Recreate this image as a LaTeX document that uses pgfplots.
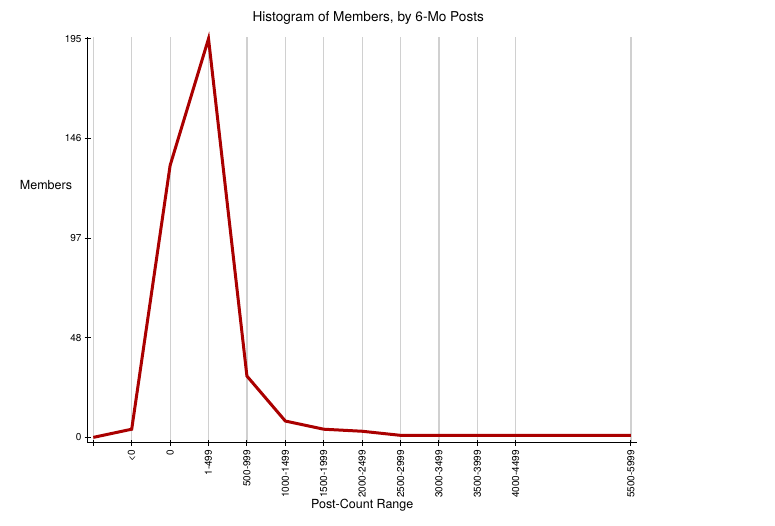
\documentclass[border=0pt]{standalone}
\usepackage{fontspec}
\setmainfont{TeX Gyre Heros}
\usepackage{pgfplots}
\pgfplotsset{compat=1.18}
\definecolor{linered}{RGB}{170,0,0}
\definecolor{gridgray}{RGB}{208,208,208}
\begin{document}
\begin{tikzpicture}
\path[use as bounding box] (0,0) rectangle (775pt,525pt);
\begin{axis}[
    at={(87.7pt,82.3pt)}, anchor=south west,
    scale only axis, width=549pt, height=406pt,
    xmin=-0.146, xmax=14.15,
    ymin=-2.6, ymax=196,
    axis lines=left,
    axis line style={-, black, line width=1pt},
    xtick={0,1,2,3,4,5,6,7,8,9,10,11,14},
    xticklabels={,<0,0,1-499,500-999,1000-1499,1500-1999,2000-2499,2500-2999,3000-3499,3500-3999,4000-4499,5500-5999},
    ytick={0,48.75,97.5,146.25,195},
    yticklabels={0,48,97,146,195},
    tick align=center, major tick length=6pt,
    tick style={black, line width=1pt},
    xmajorgrids=true,
    grid style={gridgray, line width=1.2pt},
    ticklabel style={font=\fontsize{10}{12}\selectfont},
    xticklabel style={rotate=90, anchor=east, inner sep=1pt},
    xticklabel shift=3pt,
    yticklabel style={inner sep=1pt},
    yticklabel shift=2pt,
    title={Histogram of Members, by 6-Mo Posts},
    title style={at={(axis description cs:0.511,1)}, anchor=base, yshift=9.5pt,
        font=\fontsize{13.6}{16}\selectfont},
    xlabel={Post-Count Range},
    xlabel style={at={(axis description cs:0.5,0)}, anchor=base, yshift=-66pt,
        font=\fontsize{12.5}{15}\selectfont},
    ylabel={Members},
    ylabel style={at={(axis description cs:-0.076,0.635)}, anchor=center, rotate=-90,
        font=\fontsize{12.5}{15}\selectfont},
    clip=false,
]
\addplot[color=linered, line width=3pt] coordinates {
    (0,0)(1,4)(2,133)(3,195)(4,30)(5,8)(6,4)(7,3)(8,1)(9,1)(10,1)(11,1)(12,1)(13,1)(14,1)
};
\end{axis}
\end{tikzpicture}
\end{document}
